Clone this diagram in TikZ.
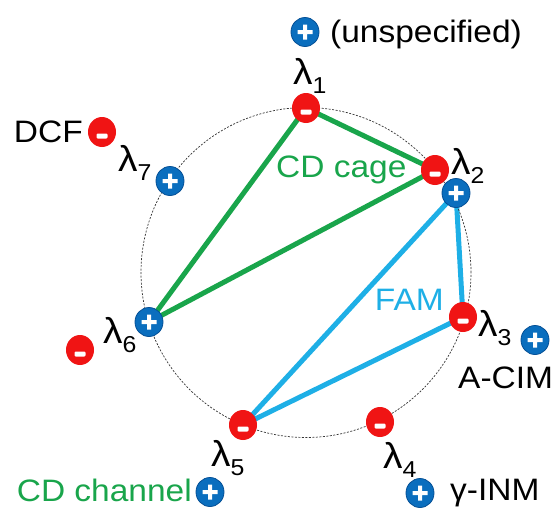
\documentclass[tikz,border=0pt]{standalone}
\usepackage{fontspec}
\setmainfont{Liberation Sans}[FakeStretch=1.08]
\usetikzlibrary{shapes.geometric,backgrounds}
\definecolor{mred}{RGB}{240,20,20}
\definecolor{mblue}{RGB}{10,110,190}
\definecolor{mbluedark}{RGB}{5,80,150}
\definecolor{cdgreen}{RGB}{25,165,75}
\definecolor{famblue}{RGB}{30,175,230}
\newcommand\lsub[1]{\raisebox{-9pt}{\fontsize{23}{23}\selectfont #1}}
\begin{document}
\begin{tikzpicture}[x=1pt,y=-1pt,
  negm/.style={ellipse, fill=mred, minimum width=28pt, minimum height=30pt, inner sep=0pt,
    path picture={\fill[white,rounded corners=1.2pt] ([xshift=-5.5pt,yshift=-1.5pt]path picture bounding box.center) rectangle ([xshift=5.5pt,yshift=-6.5pt]path picture bounding box.center);}},
  posm/.style={ellipse, fill=mblue, draw=mbluedark, line width=0.8pt, minimum width=28pt, minimum height=29pt, inner sep=0pt,
    path picture={\fill[white] ([xshift=-7.5pt,yshift=-2pt]path picture bounding box.center) rectangle ([xshift=7.5pt,yshift=2pt]path picture bounding box.center) ([xshift=-2pt,yshift=-7.5pt]path picture bounding box.center) rectangle ([xshift=2pt,yshift=7.5pt]path picture bounding box.center);}},
  lab/.style={inner sep=0pt, font=\fontsize{31}{31}\selectfont},
  lamlab/.style={inner sep=0pt, font=\fontsize{36}{36}\selectfont},
  greenline/.style={draw=cdgreen, line width=5pt, line join=round},
  blueline/.style={draw=famblue, line width=5pt, line join=round},
  ringstyle/.style={circle, draw=black!80, dash pattern=on 2pt off 1.5pt, line width=0.7pt, minimum size=330pt, inner sep=0pt}
]
\useasboundingbox (0,0) rectangle (555,507);
\node[ringstyle] (ring) at (306,272.5) {};
% markers
\node[posm] (pu) at (305,32) {};
\node[negm] (mdcf) at (102,132) {};
\node[posm] (p7) at (170,181) {};
\node[negm] (m1) at (306,108) {};
\node[negm] (m2) at (435,170) {};
\node[posm] (p2) at (456,193) {};
\node[negm] (m3) at (463,317) {};
\node[posm] (pacim) at (535,340) {};
\node[negm] (m4) at (380,422) {};
\node[posm] (pinm) at (420,493) {};
\node[negm] (m5) at (243,425) {};
\node[posm] (pch) at (210,492) {};
\node[posm] (p6) at (149,322) {};
\node[negm] (m6) at (80,350) {};
% connectors
\begin{scope}[on background layer]
\draw[greenline] (m1.center) -- (m2.center) -- (p6.center) -- cycle;
\draw[blueline] (p2.center) -- (m3.center) -- (m5.center) -- cycle;
\end{scope}
% texts
\node[lab, anchor=base west] (tu) at (330,42) {(unspecified)};
\node[lab, anchor=base east] (tdcf) at (83,142) {DCF};
\node[lab, anchor=base west, text=cdgreen] (tcage) at (276,177) {CD cage};
\node[lab, anchor=base east, text=famblue] (tfam) at (444,310) {FAM};
\node[lab, anchor=base west] (tacim) at (458,388) {A-CIM};
\node[lab, anchor=base west] (tinm) at (450,500) {γ-INM};
\node[lab, anchor=base east, text=cdgreen] (tch) at (192,501) {CD channel};
% lambda labels
\node[lamlab, anchor=base west] (l1) at (293,84) {λ\lsub{1}};
\node[lamlab, anchor=base west] (l2) at (451,174) {λ\lsub{2}};
\node[lamlab, anchor=base west] (l3) at (478,336) {λ\lsub{3}};
\node[lamlab, anchor=base west] (l4) at (383,468) {λ\lsub{4}};
\node[lamlab, anchor=base west] (l5) at (211,466) {λ\lsub{5}};
\node[lamlab, anchor=base west] (l6) at (103,343) {λ\lsub{6}};
\node[lamlab, anchor=base west] (l7) at (118,171) {λ\lsub{7}};
\end{tikzpicture}
\end{document}
